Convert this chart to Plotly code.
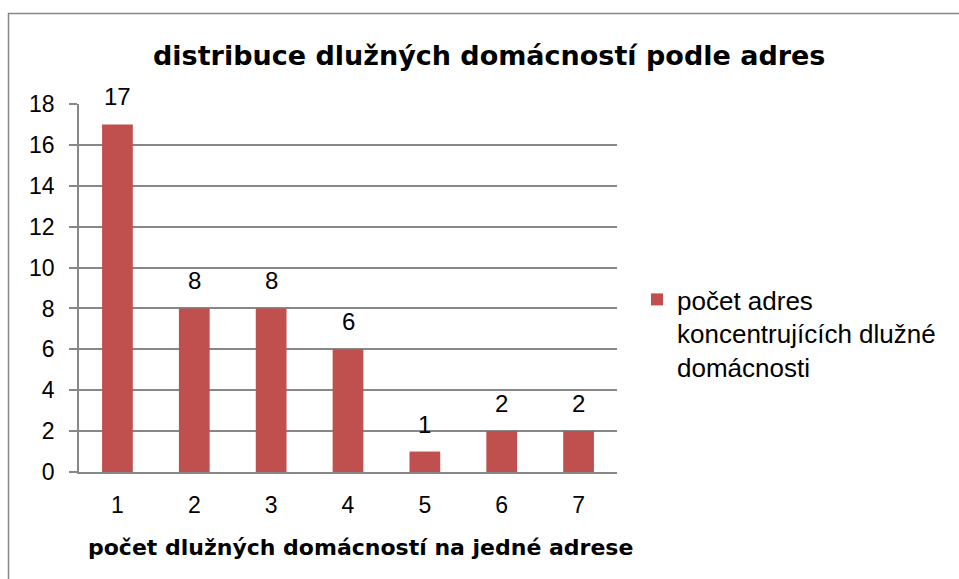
import plotly.graph_objects as go

categories = ["1", "2", "3", "4", "5", "6", "7"]
values = [17, 8, 8, 6, 1, 2, 2]
series_name = "počet adres<br>koncentrujících dlužné<br>domácnosti"
title_text = "distribuce dlužných domácností podle adres"
x_title = "počet dlužných domácností na jedné adrese"
y_ticks = [0, 2, 4, 6, 8, 10, 12, 14, 16, 18]

W, H = 959, 579
L, R, T, B = 79, 617, 104, 472
FONT = "Liberation Sans, Arial, sans-serif"
WIDE = "DejaVu Sans, Verdana, sans-serif"
BAR = "#C0504D"
GRID = "#878787"

fig = go.Figure()
fig.add_trace(go.Bar(
    x=categories, y=values, name=series_name,
    marker=dict(color=BAR, line=dict(width=0)),
    showlegend=True,
))

for i, v in enumerate(values):
    fig.add_annotation(x=i, y=v, text=str(v), showarrow=False,
                       xref="x", yref="y", yanchor="bottom", yshift=12,
                       font=dict(family=FONT, size=24, color="#000000"))

pw = R - L
ph = B - T

def px(x):
    return (x - L) / pw

def py(y):
    return (B - y) / ph

# chart border
fig.add_shape(type="rect", xref="paper", yref="paper",
              x0=px(8.5), x1=px(975), y0=py(13.5), y1=py(600),
              line=dict(color="#868686", width=1.5), fillcolor="rgba(0,0,0,0)", layer="below")

# title
fig.add_annotation(x=px(489), y=py(55), xref="paper", yref="paper", text="<b>" + title_text + "</b>",
                   showarrow=False, xanchor="center", yanchor="middle",
                   font=dict(family=WIDE, size=27, color="#000000"))
# x axis title
fig.add_annotation(x=px(360), y=py(547), xref="paper", yref="paper", text="<b>" + x_title + "</b>",
                   showarrow=False, xanchor="center", yanchor="middle",
                   font=dict(family=WIDE, size=22, color="#000000"))

fig.update_layout(
    width=W, height=H,
    margin=dict(l=L, r=W - R, t=T, b=H - B, pad=0),
    paper_bgcolor="white", plot_bgcolor="white",
    bargap=0.6,
    font=dict(family=FONT, size=23, color="#000000"),
    legend=dict(x=px(637), y=py(276), xanchor="left", yanchor="top",
                font=dict(family=FONT, size=26, color="#000000"),
                valign="top", bgcolor="rgba(0,0,0,0)", tracegroupgap=0),
    xaxis=dict(type="category", range=[-0.5, 6.5], showgrid=False, showline=True,
               linecolor=GRID, linewidth=1.5,
               ticks="", tickfont=dict(size=23), ticklabelstandoff=12, zeroline=False),
    yaxis=dict(range=[0, 18], tickvals=y_ticks, showgrid=True, gridcolor=GRID, gridwidth=1.5,
               showline=True, linecolor=GRID, linewidth=1.5, ticks="outside", ticklen=8,
               tickcolor=GRID, tickwidth=1.5, tickfont=dict(size=23), ticklabelstandoff=10,
               zeroline=False),
)

fig.write_html("out.html", config={"displayModeBar": False},
               post_script="document.body.style.margin='0';document.body.style.padding='0';")
